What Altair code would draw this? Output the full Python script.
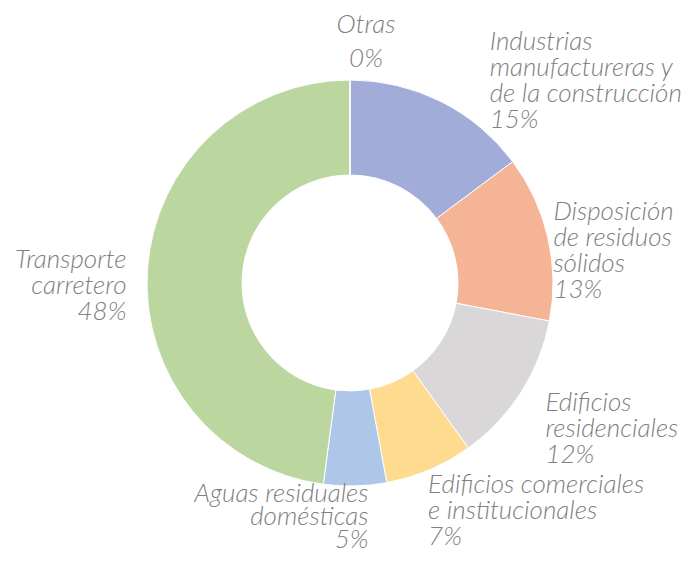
import altair as alt
import pandas as pd

categorias = ["industrias", "disposicion", "residenciales", "comerciales", "aguas", "transporte", "otras"]
nombres = [
    "Industrias|manufactureras y|de la construcción",
    "Disposición|de residuos|sólidos",
    "Edificios|residenciales",
    "Edificios comerciales|e institucionales",
    "Aguas residuales|domésticas",
    "Transporte|carretero",
    "Otras",
]
valores = [14.8, 13.2, 12.1, 7.0, 5.0, 47.9, 0.0]
colores = ["#a2acd8", "#f5b496", "#d9d7d8", "#fedb8f", "#aec7e8", "#bcd6a0", "#c8c8c8"]

df = pd.DataFrame({
    "cat": categorias,
    "nombre": nombres,
    "valor": valores,
    "orden": list(range(len(categorias))),
})

theta = alt.Theta("valor:Q", stack=True)
order = alt.Order("orden:Q")

arcs = alt.Chart().mark_arc(radius=203, innerRadius=108, stroke="white", strokeWidth=1).encode(
    theta=theta,
    order=order,
    color=alt.Color("cat:N", scale=alt.Scale(domain=categorias, range=colores), legend=None, sort=None),
)

# label layout: (category, align, dx, dy, lineHeight)
label_layout = [
    ("industrias", "left", 41, -36, 26),
    ("disposicion", "left", -11, -14, 26),
    ("residenciales", "left", 10, 10, 26),
    ("comerciales", "left", -8, 8, 26),
    ("aguas", "right", 13, -1, 23),
    ("transporte", "right", -4, 0, 26),
    ("otras", "center", 16, -30, 34),
]

layers = [arcs]
for cat, align, dx, dy, lh in label_layout:
    t = alt.Chart().transform_calculate(
        etiqueta=f"datum.cat == '{cat}' ? datum.nombre + '|' + format(datum.valor, '.0f') + '%' : ''"
    ).mark_text(
        radius=220, align=align, baseline="alphabetic", dx=dx, dy=dy,
        font="Lato", fontSize=26, fontStyle="italic", fontWeight=300,
        color="#808080", lineBreak="|", lineHeight=lh,
    ).encode(
        theta=theta,
        order=order,
        text=alt.Text("etiqueta:N"),
    )
    layers.append(t)

chart = alt.layer(*layers, data=df).properties(
    width=668, height=537,
    padding={"left": 8, "top": 6.5, "right": 0, "bottom": 1.5},
    autosize=alt.AutoSizeParams(type="none"),
).configure_view(stroke=None)

chart.save("out.html", embed_options={"renderer": "svg", "actions": False})
